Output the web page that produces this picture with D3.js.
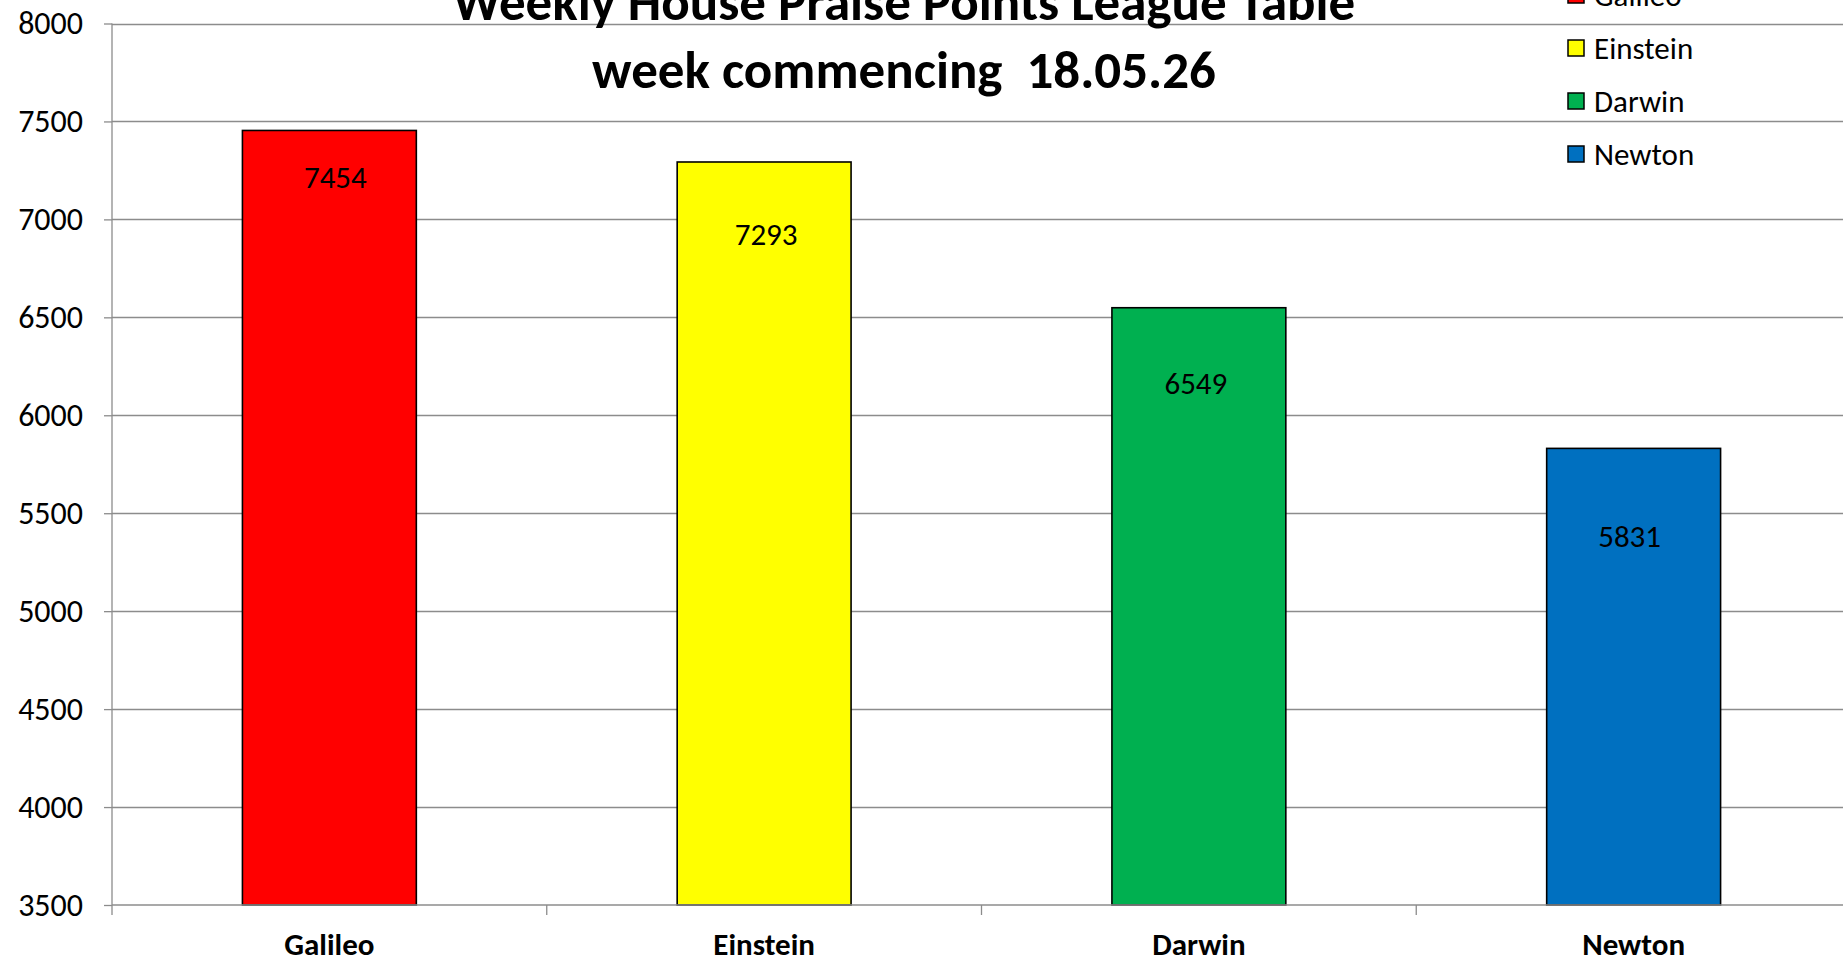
<!DOCTYPE html>
<html>
<head>
<meta charset="utf-8">
<script src="https://cdn.jsdelivr.net/npm/d3@7"></script>
<style>
  html, body { margin: 0; padding: 0; background: #fff; overflow: hidden; }
  svg, svg text { font-family: Carlito, Calibri, Lato, "Open Sans", sans-serif; }
  svg { display: block; }
  .grid line { stroke: #8c8c8c; stroke-width: 1.3; }
  .axis path, .axis line { stroke: #8c8c8c; stroke-width: 1.3; }
  .axis text { fill: #000; }
</style>
</head>
<body>
<script>
// chart data
var houses = ["Galileo", "Einstein", "Darwin", "Newton"];
var points = [7454, 7293, 6549, 5831];
var houseColors = ["#ff0000", "#ffff00", "#00b050", "#0070c0"];
var yTicks = [3500, 4000, 4500, 5000, 5500, 6000, 6500, 7000, 7500, 8000];
var titleLines = ["Weekly House Praise Points League Table", "week commencing  18.05.26"];

var width = 1843,
    height = 963,
    plotLeft = 112,   // y axis position
    plotRight = 1851, // plot runs just past the window edge
    plotTop = 23.5,
    plotBottom = 905;

// the value labels were nudged by hand in the original, offsets from the bar top centre
var labelDx = [6, 2, -3, -4],
    labelDy = [47, 72, 75, 88];

var svg = d3.select("body").append("svg")
    .attr("width", width)
    .attr("height", height);

var x = d3.scaleBand()
    .domain(houses)
    .range([plotLeft, plotRight])
    .paddingInner(0.6)
    .paddingOuter(0.3);

// band edges for the category tick marks
var step = (plotRight - plotLeft) / houses.length;

var y = d3.scaleLinear()
    .domain([3500, 8000])
    .range([plotBottom, plotTop]);

// gridlines
svg.append("g").attr("class", "grid")
    .selectAll("line")
    .data(yTicks.slice(1))
    .enter().append("line")
    .attr("x1", plotLeft)
    .attr("x2", plotRight)
    .attr("y1", function (d) { return Math.round(y(d)) + 0.5; })
    .attr("y2", function (d) { return Math.round(y(d)) + 0.5; });

// y axis
var yAxis = d3.axisLeft(y)
    .tickValues(yTicks)
    .tickSize(8)
    .tickPadding(21)
    .tickFormat(d3.format("d"));

svg.append("g")
    .attr("class", "axis y")
    .attr("transform", "translate(" + plotLeft + ",0)")
    .call(yAxis)
    .attr("font-family", null)
    .call(function (g) { g.select(".domain").attr("d", "M0," + plotTop + "V" + plotBottom); })
    .selectAll("text")
    .style("font-size", "32px");

// bars
svg.selectAll(".bar")
    .data(points)
    .enter().append("rect")
    .attr("class", "bar")
    .attr("x", function (d, i) { return x(houses[i]); })
    .attr("y", function (d) { return y(d); })
    .attr("width", x.bandwidth())
    .attr("height", function (d) { return y(3500) - y(d); })
    .attr("fill", function (d, i) { return houseColors[i]; })
    .attr("stroke", "#000")
    .attr("stroke-width", 1.6);

// value labels inside the top of each bar
svg.selectAll(".value")
    .data(points)
    .enter().append("text")
    .attr("class", "value")
    .attr("x", function (d, i) { return x(houses[i]) + x.bandwidth() / 2 + labelDx[i]; })
    .attr("y", function (d, i) { return y(d) + labelDy[i]; })
    .attr("dy", "0.35em")
    .attr("text-anchor", "middle")
    .style("font-size", "31px")
    .text(function (d) { return d; });

// x axis line with ticks at the band edges
var xAxisG = svg.append("g").attr("class", "axis x");
xAxisG.append("line")
    .attr("x1", plotLeft).attr("x2", plotRight)
    .attr("y1", plotBottom).attr("y2", plotBottom);
xAxisG.selectAll(".tick")
    .data(d3.range(houses.length + 1))
    .enter().append("line")
    .attr("x1", function (i) { return plotLeft + i * step; })
    .attr("x2", function (i) { return plotLeft + i * step; })
    .attr("y1", plotBottom)
    .attr("y2", plotBottom + 10);

xAxisG.selectAll("text")
    .data(houses)
    .enter().append("text")
    .attr("x", function (d) { return x(d) + x.bandwidth() / 2; })
    .attr("y", 944)
    .attr("dy", "0.35em")
    .attr("text-anchor", "middle")
    .style("font-size", "31px")
    .style("font-weight", "bold")
    .text(function (d) { return d; });

// title
svg.append("g").selectAll("text")
    .data(titleLines)
    .enter().append("text")
    .attr("x", 904)
    .attr("y", function (d, i) { return 20 + i * 68; })
    .attr("text-anchor", "middle")
    .style("font-size", "53px")
    .style("font-weight", "bold")
    .style("white-space", "pre")
    .text(function (d) { return d; });

// legend
var legend = svg.append("g")
    .attr("transform", "translate(1568,0)");

var item = legend.selectAll("g")
    .data(houses)
    .enter().append("g")
    .attr("transform", function (d, i) { return "translate(0," + (-5 + i * 53) + ")"; });

item.append("rect")
    .attr("x", 0)
    .attr("y", -8)
    .attr("width", 16)
    .attr("height", 16)
    .attr("fill", function (d, i) { return houseColors[i]; })
    .attr("stroke", "#000")
    .attr("stroke-width", 1.5);

item.append("text")
    .attr("x", 26)
    .attr("y", 0)
    .attr("dy", "0.35em")
    .style("font-size", "31px")
    .text(function (d) { return d; });
</script>
</body>
</html>
